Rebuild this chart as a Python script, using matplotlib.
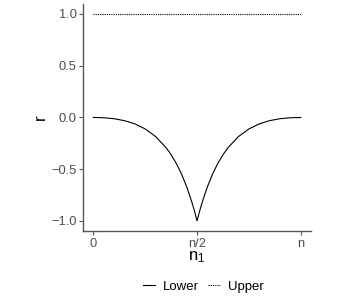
import matplotlib
matplotlib.use("Agg")
import matplotlib.pyplot as plt
from matplotlib.lines import Line2D

plt.rcParams["font.family"] = ["Liberation Sans", "DejaVu Sans"]
plt.rcParams["mathtext.fontset"] = "custom"
plt.rcParams["mathtext.rm"] = "Liberation Sans"
plt.rcParams["mathtext.it"] = "Liberation Sans"

# n1 as a fraction of n, with values
n1_frac = [0.0, 0.05, 0.1, 0.15, 0.2, 0.25, 0.3, 0.35, 0.375, 0.4, 0.425,
           0.45, 0.465, 0.475, 0.485, 0.4925, 0.5,
           0.5075, 0.515, 0.525, 0.535, 0.55, 0.575, 0.6, 0.625, 0.65,
           0.7, 0.75, 0.8, 0.85, 0.9, 0.95, 1.0]
lower_r = [0.0, -0.003, -0.012, -0.031, -0.062, -0.111, -0.184, -0.29, -0.36, -0.444, -0.546,
           -0.669, -0.758, -0.819, -0.886, -0.942, -1.0,
           -0.942, -0.886, -0.819, -0.758, -0.669, -0.546, -0.444, -0.36, -0.29,
           -0.184, -0.111, -0.062, -0.031, -0.012, -0.003, 0.0]
upper_x = [0.0, 1.0]
upper_r = [1.0, 1.0]

x_ticks = [0.0, 0.5, 1.0]
x_labels = ["0", "n/2", "n"]
y_ticks = [-1.0, -0.5, 0.0, 0.5, 1.0]
y_labels = ["\u22121.0", "\u22120.5", "0.0", "0.5", "1.0"]

grey = "#4d4d4d"

fig = plt.figure(figsize=(3.5, 3.0), dpi=100)
ax = fig.add_axes([0.237, 0.229, 0.652, 0.759])

ax.plot(n1_frac, lower_r, color="black", lw=0.8, solid_joinstyle="miter")
ax.plot(upper_x, upper_r, color="black", lw=0.8, linestyle=(0, (1, 1)))

ax.set_xlim(-0.05, 1.05)
ax.set_ylim(-1.1, 1.1)
ax.set_xticks(x_ticks)
ax.set_xticklabels(x_labels)
ax.set_yticks(y_ticks)
ax.set_yticklabels(y_labels)

for side in ["top", "right"]:
    ax.spines[side].set_visible(False)
for side in ["left", "bottom"]:
    ax.spines[side].set_color("#555555")
    ax.spines[side].set_linewidth(1.0)

ax.tick_params(axis="both", colors="#555555", length=3, width=0.8,
               labelsize=9.3, labelcolor=grey, pad=1.5)

ax.set_xlabel(r"n$_1$", fontsize=12, labelpad=0)
ax.set_ylabel("r", fontsize=12)
ax.yaxis.set_label_coords(-0.152, 0.5)

handles = [Line2D([], [], color="black", lw=0.8),
           Line2D([], [], color="black", lw=0.8, linestyle=(0, (1, 1)))]
fig.legend(handles, ["Lower", "Upper"], loc="center", bbox_to_anchor=(0.58, 0.045),
           ncol=2, frameon=False, fontsize=9.5, handlelength=0.9,
           handletextpad=0.6, columnspacing=0.7)

fig.savefig("out.png", dpi=100)
